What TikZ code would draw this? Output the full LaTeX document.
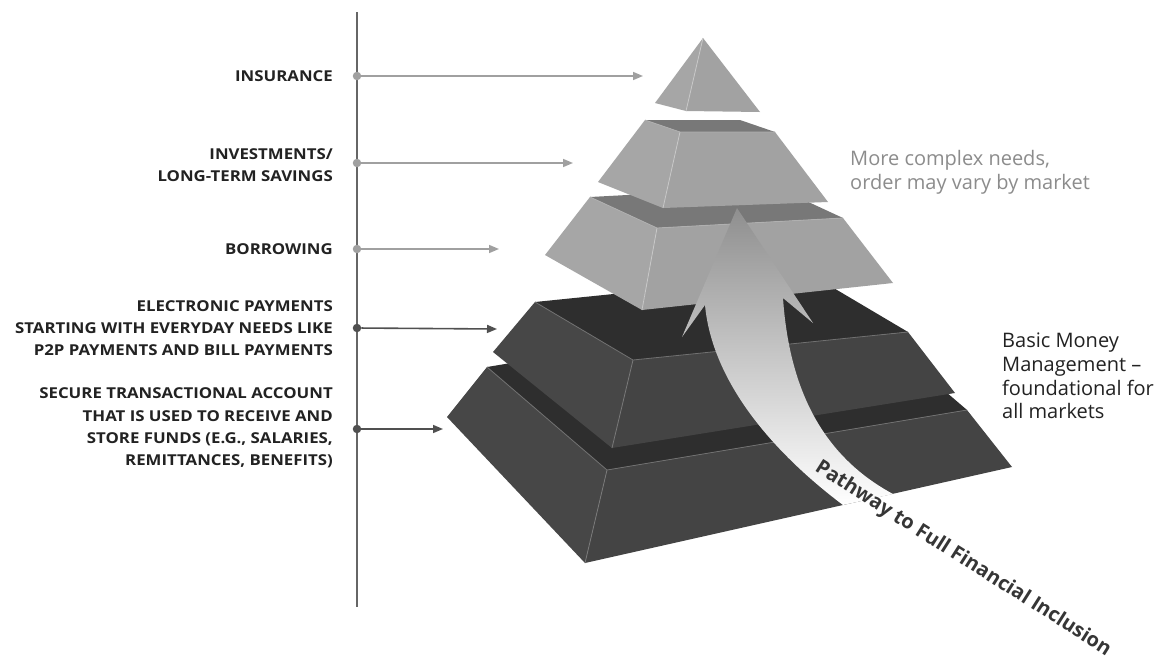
\documentclass[tikz,border=0pt]{standalone}
\usepackage{fontspec}
\setmainfont{Open Sans}
\newfontfamily\labelfont{Open Sans}[FakeStretch=1.12]
\usetikzlibrary{arrows.meta}
\definecolor{axisgray}{HTML}{666666}
\definecolor{lightarrow}{HTML}{A0A0A0}
\definecolor{darkarrow}{HTML}{505050}
\definecolor{lface}{HTML}{A6A6A6}
\definecolor{lfront}{HTML}{A2A2A2}
\definecolor{ltop}{HTML}{787878}
\definecolor{lridge}{HTML}{C8C8C8}
\definecolor{dface}{HTML}{474747}
\definecolor{dfront}{HTML}{444444}
\definecolor{dtop}{HTML}{2E2E2E}
\definecolor{dridge}{HTML}{7A7A7A}
\definecolor{labeltext}{HTML}{222222}
\definecolor{complextext}{HTML}{8C8C8C}
\definecolor{pathtext}{HTML}{363636}
\tikzset{
  leftlabel/.style={anchor=east, align=right, font=\labelfont\fontsize{15}{22.3}\selectfont\bfseries, text=labeltext, inner sep=0pt},
  lightdot/.style={circle, fill=lightarrow, inner sep=0pt, minimum size=8.5pt},
  darkdot/.style={circle, fill=darkarrow, inner sep=0pt, minimum size=8.5pt},
  lightarr/.style={draw=lightarrow, line width=1.6pt, -{Triangle[length=10pt,width=8pt]}},
  darkarr/.style={draw=darkarrow, line width=1.6pt, -{Triangle[length=10pt,width=8pt]}},
  sidelabel/.style={anchor=west, align=left, inner sep=0pt, font=\fontsize{20}{23.6}\selectfont},
}
\begin{document}
\begin{tikzpicture}[x=1pt,y=-1pt]
\useasboundingbox[fill=white] (0,0) rectangle (1160,665);

% axis
\coordinate (axtop) at (357,12);
\coordinate (axbot) at (357,607);
\draw[axisgray, line width=2pt] (axtop) -- (axbot);

% ---------- pyramid: piece 5 (bottom, dark)
\fill[dtop] (487,367) -- (847,307) -- (967,410) -- (607,470) -- cycle;
\fill[dface] (487,367) -- (607,470) -- (585,563) -- (447,417) -- cycle;
\fill[dfront] (607,470) -- (967,410) -- (1012,467) -- (585,563) -- cycle;
\draw[dridge, line width=0.8pt] (607,470) -- (585,563);
\draw[dridge!80!dface, line width=0.8pt] (487,367) -- (607,470) -- (967,410);

% piece 4 (dark)
\fill[dtop] (535,302) -- (810,274) -- (908,332) -- (633,360) -- cycle;
\fill[dface] (535,302) -- (633,360) -- (612,448) -- (493,352) -- cycle;
\fill[dfront] (633,360) -- (908,332) -- (955,393) -- (612,448) -- cycle;
\draw[dridge, line width=0.8pt] (633,360) -- (612,448);
\draw[dridge!80!dface, line width=0.8pt] (535,302) -- (633,360) -- (908,332);

% piece 3 (light)
\fill[ltop] (590,197) -- (776,187) -- (843,218) -- (657,228) -- cycle;
\fill[lface] (590,197) -- (657,228) -- (642,310) -- (545,255) -- cycle;
\fill[lfront] (657,228) -- (843,218) -- (893,283) -- (642,310) -- cycle;
\draw[lridge, line width=0.8pt] (657,228) -- (642,310);
\draw[lridge!70!ltop, line width=0.8pt] (590,197) -- (657,228) -- (843,218);

% piece 2 (light)
\fill[ltop] (645,120) -- (740,120) -- (775,132) -- (680,132) -- cycle;
\fill[lface] (645,120) -- (680,132) -- (663,208) -- (598,182) -- cycle;
\fill[lfront] (680,132) -- (775,132) -- (828,202) -- (663,208) -- cycle;
\draw[lridge, line width=0.8pt] (680,132) -- (663,208);
\draw[lridge!70!ltop, line width=0.8pt] (645,120) -- (680,132) -- (775,132);

% piece 1 (top)
\fill[lface] (703,38) -- (686,111) -- (655,103) -- cycle;
\fill[lfront] (703,38) -- (760,112) -- (686,111) -- cycle;
\draw[lridge, line width=0.8pt] (703,38) -- (686,111);

% ---------- pathway arrow
\shade[top color=black!44, bottom color=white]
  (737,208) -- (813,323) -- (783,298)
  .. controls (790,400) and (830,460) .. (893,494)
  -- (843,505)
  .. controls (770,450) and (712,380) .. (705,305)
  -- (682,337) -- cycle;

\node[rotate=-32.4, font=\fontsize{20}{20}\selectfont\bfseries, text=pathtext, inner sep=0pt] (pathway) at (963,559) {Pathway to Full Financial Inclusion};

% ---------- left labels, dots, arrows
\node[leftlabel] (lins) at (333,76) {INSURANCE};
\node[leftlabel] (linv) at (333,165) {INVESTMENTS/\\LONG-TERM SAVINGS};
\node[leftlabel] (lbor) at (333,249) {BORROWING};
\node[leftlabel] (lele) at (333,328) {ELECTRONIC PAYMENTS\\STARTING WITH EVERYDAY NEEDS LIKE\\P2P PAYMENTS AND BILL PAYMENTS};
\node[leftlabel] (lsec) at (333,428) {SECURE TRANSACTIONAL ACCOUNT\\THAT IS USED TO RECEIVE AND\\STORE FUNDS (E.G., SALARIES,\\REMITTANCES, BENEFITS)};

\node[lightdot] (dins) at (357,76) {};
\node[lightdot] (dinv) at (357,163) {};
\node[lightdot] (dbor) at (357,249) {};
\node[darkdot] (dele) at (357,328) {};
\node[darkdot] (dsec) at (357,429) {};

\coordinate (tins) at (643,76);
\coordinate (tinv) at (573,163);
\coordinate (tbor) at (499,249);
\coordinate (tele) at (497,329);
\coordinate (tsec) at (443,429);

\draw[lightarr] (dins) -- (tins);
\draw[lightarr] (dinv) -- (tinv);
\draw[lightarr] (dbor) -- (tbor);
\draw[darkarr] (dele) -- (tele);
\draw[darkarr] (dsec) -- (tsec);

% ---------- right labels
\node[sidelabel, text=complextext] (complex) at (850,172) {More complex needs,\\order may vary by market};
\node[sidelabel, text=labeltext] (basic) at (1002,376) {Basic Money\\Management –\\foundational for\\all markets};
\end{tikzpicture}
\end{document}
